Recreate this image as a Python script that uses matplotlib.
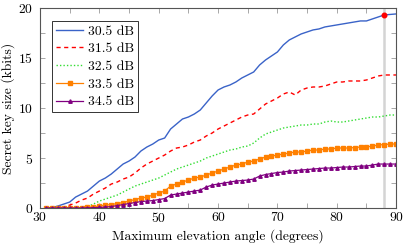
import matplotlib
matplotlib.use("Agg")
import matplotlib.pyplot as plt
from matplotlib.ticker import MultipleLocator

plt.rcParams["font.family"] = ["cmr10", "DejaVu Serif"]
plt.rcParams["mathtext.fontset"] = "cm"
plt.rcParams["axes.formatter.use_mathtext"] = True
plt.rcParams["axes.unicode_minus"] = False

angles = list(range(31, 91))

snr_labels = ["30.5 dB", "31.5 dB", "32.5 dB", "33.5 dB", "34.5 dB"]

key_305 = [0.0, 0.05, 0.2, 0.4, 0.6, 1.1, 1.4, 1.7, 2.2, 2.7,
           3.0, 3.4, 3.9, 4.4, 4.7, 5.1, 5.7, 6.1, 6.4, 6.8,
           7.0, 7.9, 8.4, 8.9, 9.1, 9.4, 9.8, 10.5, 11.2, 11.8,
           12.1, 12.3, 12.6, 13.0, 13.3, 13.6, 14.3, 14.8, 15.2, 15.6,
           16.3, 16.8, 17.1, 17.4, 17.6, 17.8, 17.9, 18.1, 18.2, 18.3,
           18.4, 18.5, 18.6, 18.7, 18.7, 18.9, 19.1, 19.3, 19.35, 19.4]

key_315 = [0.0, 0.0, 0.02, 0.1, 0.3, 0.5, 0.8, 1.0, 1.4, 1.7,
           2.0, 2.4, 2.6, 2.9, 3.1, 3.5, 4.0, 4.4, 4.7, 5.0,
           5.3, 5.7, 6.0, 6.1, 6.3, 6.6, 6.8, 7.2, 7.5, 7.9,
           8.2, 8.5, 8.8, 9.1, 9.3, 9.4, 9.9, 10.4, 10.7, 11.0,
           11.4, 11.6, 11.3, 11.8, 12.0, 12.1, 12.1, 12.2, 12.4, 12.6,
           12.6, 12.7, 12.7, 12.7, 12.8, 13.0, 13.2, 13.3, 13.3, 13.3]

key_325 = [0.0, 0.0, 0.0, 0.0, 0.02, 0.05, 0.1, 0.15, 0.4, 0.7,
           0.9, 1.1, 1.3, 1.6, 1.9, 2.2, 2.4, 2.6, 2.8, 3.0,
           3.3, 3.6, 3.9, 4.1, 4.3, 4.5, 4.7, 5.0, 5.2, 5.4,
           5.6, 5.8, 5.9, 6.1, 6.2, 6.5, 7.0, 7.4, 7.6, 7.8,
           8.0, 8.1, 8.2, 8.3, 8.3, 8.4, 8.4, 8.6, 8.7, 8.6,
           8.6, 8.7, 8.8, 8.9, 9.0, 9.1, 9.1, 9.2, 9.3, 9.3]

key_335 = [0.0, 0.0, 0.0, 0.0, 0.0, 0.02, 0.05, 0.08, 0.12, 0.2,
           0.3, 0.35, 0.45, 0.55, 0.7, 0.85, 1.0, 1.1, 1.3, 1.5,
           1.7, 2.2, 2.4, 2.6, 2.8, 3.0, 3.1, 3.3, 3.5, 3.7,
           3.9, 4.1, 4.3, 4.4, 4.6, 4.7, 4.9, 5.1, 5.2, 5.3,
           5.4, 5.5, 5.6, 5.6, 5.7, 5.8, 5.8, 5.9, 5.9, 6.0,
           6.0, 6.0, 6.05, 6.1, 6.1, 6.2, 6.3, 6.35, 6.4, 6.4]

key_345 = [0.0, 0.0, 0.0, 0.0, 0.0, 0.0, 0.0, 0.02, 0.04, 0.06,
           0.1, 0.15, 0.25, 0.35, 0.45, 0.55, 0.65, 0.7, 0.75, 0.85,
           0.95, 1.3, 1.4, 1.5, 1.6, 1.7, 1.8, 2.1, 2.3, 2.4,
           2.5, 2.6, 2.7, 2.75, 2.8, 2.9, 3.2, 3.35, 3.45, 3.55,
           3.6, 3.7, 3.75, 3.8, 3.85, 3.9, 3.95, 4.0, 4.0, 4.05,
           4.1, 4.1, 4.15, 4.2, 4.2, 4.3, 4.4, 4.4, 4.4, 4.4]

best_angle = 88
best_key = 19.3

fig = plt.figure(figsize=(4.07, 2.48), dpi=100)
ax = fig.add_axes([0.0983, 0.161, 0.875, 0.807])

ax.axvline(best_angle, color="#d4d4d4", lw=1.8, zorder=1)

ax.plot(angles, key_305, color="#3a63c8", lw=1.0, label=snr_labels[0])
ax.plot(angles, key_315, color="#ff0000", lw=1.0, dashes=(3, 2.5), label=snr_labels[1])
ax.plot(angles, key_325, color="#33dd33", lw=1.0, dashes=(1, 1.5), label=snr_labels[2])
ax.plot(angles, key_335, color="#ff8000", lw=0.9, marker="s", ms=2.2, label=snr_labels[3])
ax.plot(angles, key_345, color="#800080", lw=0.9, marker="^", ms=2.5, label=snr_labels[4])

ax.plot([best_angle], [best_key], "o", color="#ff0000", ms=3.3, zorder=5)

ax.set_xlim(30, 90)
ax.set_ylim(0, 20)
ax.xaxis.set_major_locator(MultipleLocator(10))
ax.xaxis.set_minor_locator(MultipleLocator(5))
ax.yaxis.set_major_locator(MultipleLocator(5))
ax.yaxis.set_minor_locator(MultipleLocator(2.5))
ax.tick_params(which="both", direction="in", top=True, right=True,
               length=3.5, width=0.6, color="#9a9a9a", labelsize=9.8)
ax.tick_params(axis="x", pad=2)
ax.tick_params(axis="y", pad=5)
for s in ax.spines.values():
    s.set_color("#555555")
    s.set_linewidth(0.8)

ax.set_xlabel("Maximum elevation angle (degrees)", fontsize=9.8, labelpad=3)
ax.set_ylabel("Secret key size (kbits)", fontsize=9.8, labelpad=2)

leg = ax.legend(loc="upper left", bbox_to_anchor=(0.034, 0.935), borderaxespad=0,
                fontsize=9.8, fancybox=False, edgecolor="#333333", framealpha=1,
                handlelength=2.0, handletextpad=0.3, labelspacing=0.38,
                borderpad=0.3)
leg.get_frame().set_linewidth(0.7)

fig.savefig("out.png", dpi=100)
